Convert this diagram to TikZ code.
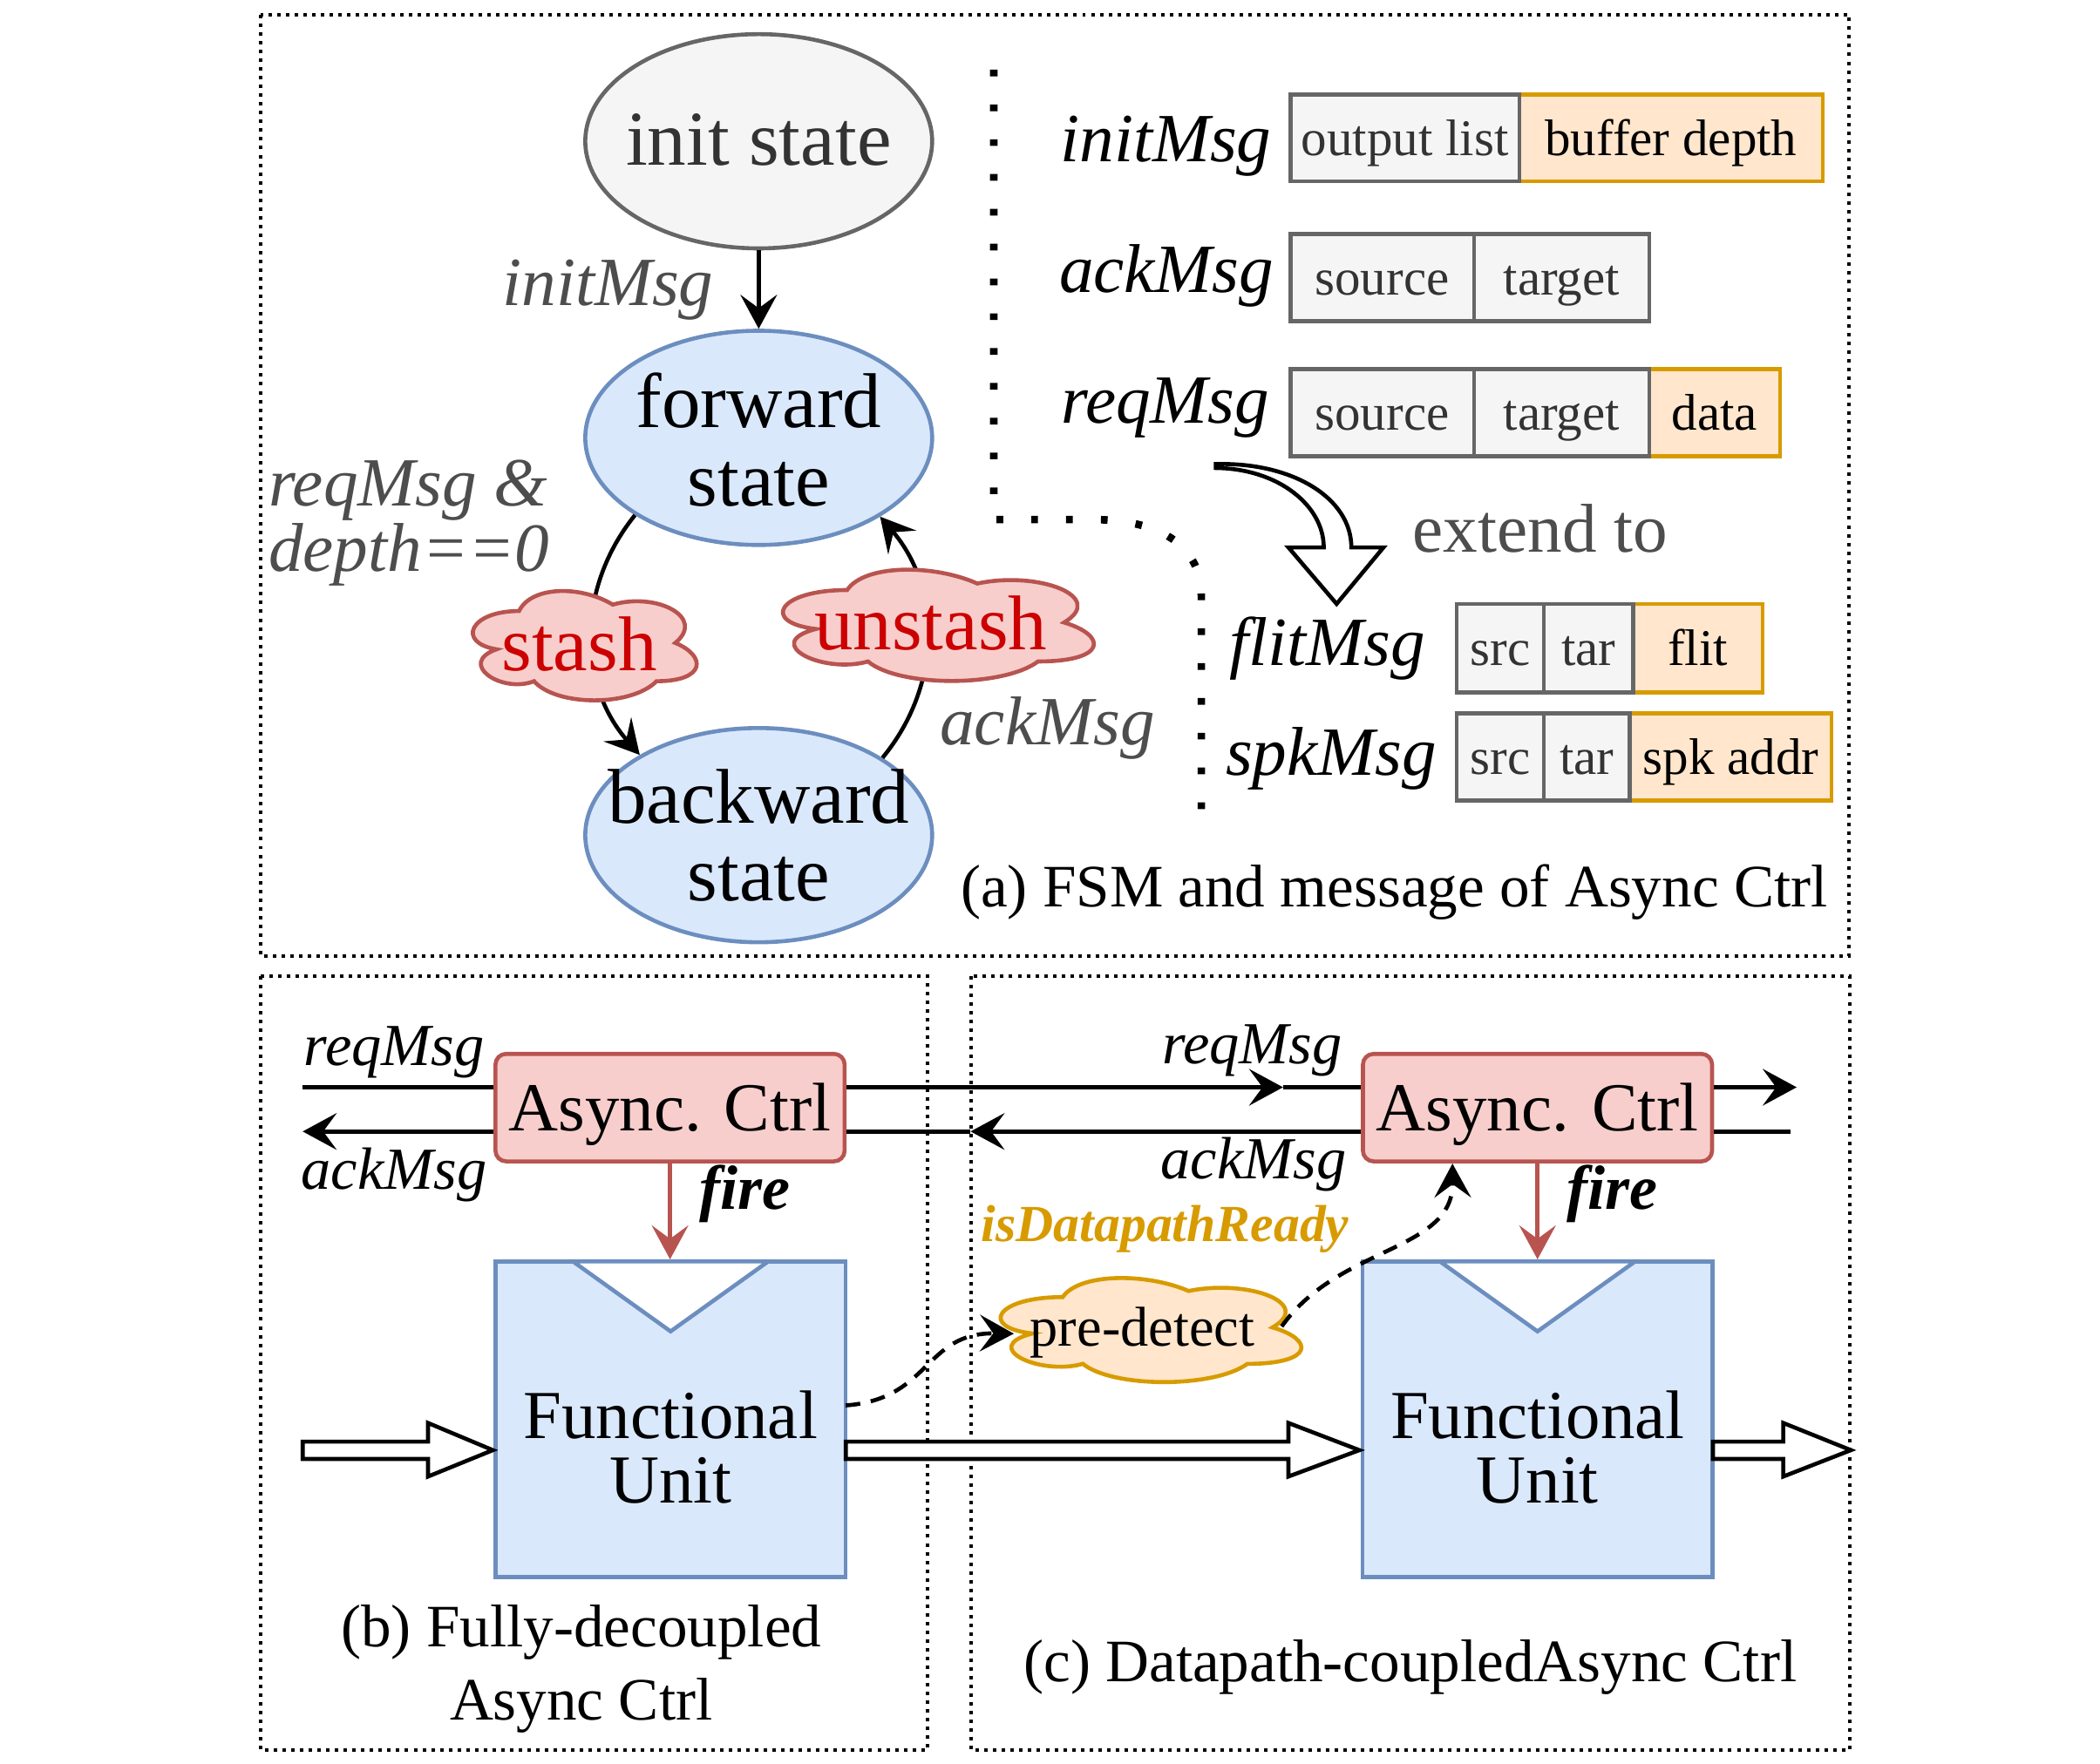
\documentclass[tikz,border=0pt]{standalone}
\usepackage{fontspec}
\setmainfont{Liberation Serif}
\usetikzlibrary{arrows.meta,shapes.geometric,calc}
\definecolor{gfill}{HTML}{F5F5F5}
\definecolor{gdraw}{HTML}{666666}
\definecolor{gtext}{HTML}{333333}
\definecolor{bfill}{HTML}{DAE8FC}
\definecolor{bdraw}{HTML}{6C8EBF}
\definecolor{rfill}{HTML}{F8CECC}
\definecolor{rdraw}{HTML}{B85450}
\definecolor{ofill}{HTML}{FFE6CC}
\definecolor{odraw}{HTML}{D79B00}
\definecolor{redtxt}{HTML}{CC0000}
\definecolor{lbl}{HTML}{4D4D4D}
\newcommand\fsz[1]{\fontsize{#1}{#1}\selectfont}
\begin{document}
\begin{tikzpicture}[x=0.15mm,y=-0.15mm,line width=0.45mm,
  frame/.style={line width=0.39mm,dash pattern=on 0.39mm off 0.59mm},
  divider/.style={line width=0.85mm,dash pattern=on 0.75mm off 3.15mm},
  arr/.style={-{Stealth[length=3.8mm,width=4.1mm,inset=1.5mm]}},
  dsh/.style={dash pattern=on 1.65mm off 1.2mm},
  txt/.style={inner sep=0,anchor=base},
  statefont/.style={font=\fsz{24.75pt}},
  ilbl/.style={txt,font=\fsz{22pt}\itshape,text=lbl},
  imsg/.style={txt,font=\fsz{22pt}\itshape},
  bmsg/.style={txt,font=\fsz{19pt}\itshape},
  capt/.style={txt,font=\fsz{19.2pt}},
  st/.style={ellipse,draw=bdraw,fill=bfill,minimum width=259*0.15mm,minimum height=160*0.15mm,inner sep=0},
  cellg/.style={draw=gdraw,fill=gfill,text=gtext,inner sep=0,font=\fsz{16.4pt},text height=14.6pt,text depth=3.54pt},
  cello/.style={draw=odraw,fill=ofill,text=black,inner sep=0,font=\fsz{16.4pt},text height=14.6pt,text depth=3.54pt},
  cloudR/.style={draw=rdraw,fill=rfill},
  cloudO/.style={draw=odraw,fill=ofill},
  cloudtxt/.style={txt,text=redtxt,font=\fsz{24.75pt}},
  async/.style={draw=rdraw,fill=rfill,rounded corners=1.2mm,inner sep=0,minimum width=260.7*0.15mm,minimum height=80.3*0.15mm,font=\fsz{21.9pt},text height=19.5pt,text depth=4.73pt},
  fu/.style={draw=bdraw,fill=bfill,inner sep=0,minimum width=261.5*0.15mm,minimum height=235.6*0.15mm},
  fufont/.style={txt,font=\fsz{21.9pt}},
  hollow/.style={draw=black,fill=white,line join=miter},
  fire/.style={txt,font=\fsz{20pt}\bfseries\itshape}]
\useasboundingbox (0,0) rectangle (1568,1317);

% frames
\draw[frame] (194.7,11) rectangle (1380.8,714);
\draw[frame] (194.3,729) rectangle (692.6,1307);
\draw[frame] (725,729) rectangle (1381,1307);

% ---------- (a) FSM ----------
\node[st,draw=gdraw,fill=gfill] (init) at (566.5,105.5) {};
\node[txt,statefont,text=gtext] (initT) at (566.5,123.5) {init state};
\node[st] (fwd) at (566.5,327) {};
\node[txt,statefont] (fwdA) at (566.5,319) {forward};
\node[txt,statefont] (fwdB) at (566.5,377.6) {state};
\node[st] (bwd) at (566.5,623.7) {};
\node[txt,statefont] (bwdA) at (566.5,615) {backward};
\node[txt,statefont] (bwdB) at (566.5,673) {state};

\draw[arr] (init) -- (fwd);
\node[ilbl] (lInit) at (454,228) {initMsg};

\draw[arr] (fwd.212.2) to[bend right=40] (bwd.146.9);
\draw[arr] (bwd.32) to[bend right=40] (fwd.327.6);

% stash cloud
\begin{scope}[shift={(340.9,432.5)},x=186.6*0.15mm,y=-95.3*0.15mm]
\draw[cloudR] (0.25,0.25) .. controls (0.05,0.25) and (0,0.5) .. (0.16,0.55) .. controls (0,0.66) and (0.18,0.9) .. (0.31,0.8) .. controls (0.4,1) and (0.7,1) .. (0.8,0.8) .. controls (1,0.8) and (1,0.6) .. (0.875,0.5) .. controls (1,0.3) and (0.8,0.1) .. (0.625,0.2) .. controls (0.5,0.05) and (0.3,0.05) .. (0.25,0.25) -- cycle;
\end{scope}
\node[cloudtxt] (stash) at (432.6,501) {stash};
% unstash cloud
\begin{scope}[shift={(567.7,416.4)},x=259.2*0.15mm,y=-97*0.15mm]
\draw[cloudR] (0.25,0.25) .. controls (0.05,0.25) and (0,0.5) .. (0.16,0.55) .. controls (0,0.66) and (0.18,0.9) .. (0.31,0.8) .. controls (0.4,1) and (0.7,1) .. (0.8,0.8) .. controls (1,0.8) and (1,0.6) .. (0.875,0.5) .. controls (1,0.3) and (0.8,0.1) .. (0.625,0.2) .. controls (0.5,0.05) and (0.3,0.05) .. (0.25,0.25) -- cycle;
\end{scope}
\node[cloudtxt] (unstash) at (695,485) {unstash};

\node[ilbl,anchor=base west] (lReq1) at (199,377.6) {reqMsg \&};
\node[ilbl,anchor=base west] (lReq2) at (199,426.4) {depth==0};
\node[ilbl] (lAck) at (782,556) {ackMsg};

% divider
\draw[divider] (742,52) -- (742,388) -- (815,388) .. controls (870,388) and (897,410) .. (897,445) -- (897,620);

% messages
\node[imsg] (mInit) at (870.5,121) {initMsg};
\node[imsg] (mAck) at (871,218.6) {ackMsg};
\node[imsg] (mReq) at (870,316) {reqMsg};
\node[imsg] (mFlit) at (991,497) {flitMsg};
\node[imsg] (mSpk) at (994,579) {spkMsg};

\node[cello,minimum width=226.5*0.15mm,minimum height=65*0.15mm] (c1b) at (1247.75,103) {buffer depth};
\node[cellg,minimum width=171*0.15mm,minimum height=65*0.15mm] (c1a) at (1049,103) {output list};

\node[cellg,minimum width=137.1*0.15mm,minimum height=65*0.15mm] (c2a) at (1032,207.35) {source};
\node[cellg,minimum width=130.7*0.15mm,minimum height=65*0.15mm] (c2b) at (1166,207.35) {target};

\node[cello,minimum width=97.7*0.15mm,minimum height=65*0.15mm] (c3c) at (1280.15,308.25) {data};
\node[cellg,minimum width=137.1*0.15mm,minimum height=65*0.15mm] (c3a) at (1032,308.25) {source};
\node[cellg,minimum width=130.7*0.15mm,minimum height=65*0.15mm] (c3b) at (1166,308.25) {target};

\node[cello,minimum width=96.5*0.15mm,minimum height=66*0.15mm] (c4c) at (1267.75,484) {flit};
\node[cellg,minimum width=65.1*0.15mm,minimum height=66*0.15mm] (c4a) at (1120.15,484) {src};
\node[cellg,minimum width=66.8*0.15mm,minimum height=66*0.15mm] (c4b) at (1186.1,484) {tar};

\node[cello,minimum width=150.6*0.15mm,minimum height=65*0.15mm] (c5c) at (1292.3,565.15) {spk addr};
\node[cellg,minimum width=65.1*0.15mm,minimum height=65*0.15mm] (c5a) at (1120.15,565.15) {src};
\node[cellg,minimum width=64.3*0.15mm,minimum height=65*0.15mm] (c5b) at (1184.85,565.15) {tar};

% extend-to arrow
\draw[hollow] (907.8,346.6) .. controls (965,345) and (1009,372) .. (1009,408.8) -- (1033,408.8) -- (998,451) -- (962,408.8) -- (988.4,408.8) .. controls (988.4,378) and (955,350) .. (907.8,349.5) -- cycle;
\node[txt,font=\fsz{22pt},text=lbl] (lExt) at (1150,412.6) {extend to};

\node[capt] (capA) at (1041,677) {(a) FSM and message of Async Ctrl};

% ---------- (b) ----------
\node[async] (acb) at (500.3,827.2) {Async. Ctrl};
\node[fu] (fub) at (500.7,1059.8) {};
\draw[draw=bdraw,fill=white] (427.7,942) -- (500.7,994.3) -- (573.7,942) -- cycle;
\node[fufont] (fubA) at (500.7,1074.6) {Functional};
\node[fufont] (fubB) at (500.7,1122.5) {Unit};

\coordinate (reqL) at (226,812);
\coordinate (ackL) at (226,845);
\coordinate (reqM) at (958,812);
\coordinate (ackM) at (724.7,845);
\coordinate (reqR) at (1341.5,812);
\coordinate (ackR) at (1337,845);

\draw (reqL) -- (reqL -| acb.west);
\draw[arr] (ackL -| acb.west) -- (ackL);
\node[bmsg] (bReq) at (294.3,796) {reqMsg};
\node[bmsg] (bAck) at (294.3,888) {ackMsg};

\draw[arr,draw=rdraw] (acb.south) -- (acb.south |- fub.north);
\node[fire] (fireB) at (556,903) {fire};

\draw[hollow] (226,1076.6) -- (319.6,1076.6) -- (319.6,1062.7) -- (368,1083) -- (319.6,1102.7) -- (319.6,1089.6) -- (226,1089.6) -- cycle;

\node[capt] (capB1) at (434,1229.6) {(b) Fully-decoupled};
\node[capt] (capB2) at (434,1284.6) {Async Ctrl};

% ---------- (c) ----------
\node[async] (acc) at (1148,827.2) {Async. Ctrl};
\node[fu] (fuc) at (1148,1059.8) {};
\draw[draw=bdraw,fill=white] (1075,942) -- (1148,994.3) -- (1221,942) -- cycle;
\node[fufont] (fucA) at (1148,1074.6) {Functional};
\node[fufont] (fucB) at (1148,1122.5) {Unit};

\draw[arr] (reqL -| acb.east) -- (reqM);
\draw (reqM) -- (reqL -| acc.west);
\draw[arr] (ackL -| acc.west) -- (ackM);
\draw (ackM) -- (ackL -| acb.east);
\draw[arr] (reqL -| acc.east) -- (reqR);
\draw (ackL -| acc.east) -- (ackR);
\node[bmsg] (cReq) at (935,794.4) {reqMsg};
\node[bmsg] (cAck) at (936,880.4) {ackMsg};

\draw[arr,draw=rdraw] (acc.south) -- (acc.south |- fuc.north);
\node[fire] (fireC) at (1204,903) {fire};

\draw[hollow] (631.5,1076.6) -- (962,1076.6) -- (962,1062.7) -- (1015,1083) -- (962,1102.7) -- (962,1089.6) -- (631.5,1089.6) -- cycle;
\draw[hollow] (1279,1076.6) -- (1331.5,1076.6) -- (1331.5,1062.7) -- (1382,1083) -- (1331.5,1102.7) -- (1331.5,1089.6) -- (1279,1089.6) -- cycle;

% pre-detect cloud
\begin{scope}[shift={(730.8,946)},x=250.7*0.15mm,y=-90.7*0.15mm]
\draw[cloudO] (0.25,0.25) .. controls (0.05,0.25) and (0,0.5) .. (0.16,0.55) .. controls (0,0.66) and (0.18,0.9) .. (0.31,0.8) .. controls (0.4,1) and (0.7,1) .. (0.8,0.8) .. controls (1,0.8) and (1,0.6) .. (0.875,0.5) .. controls (1,0.3) and (0.8,0.1) .. (0.625,0.2) .. controls (0.5,0.05) and (0.3,0.05) .. (0.25,0.25) -- cycle;
\end{scope}
\node[txt,font=\fsz{17.9pt}] (pre) at (853,1005.6) {pre-detect};

\coordinate (fuOut) at (631.4,1049.6);
\coordinate (preIn) at (757,996);
\coordinate (preOut) at (957,990.6);
\coordinate (accIn) at (1084.5,869);
\draw[arr,dsh] (fuOut) .. controls (695,1045) and (690,995) .. (preIn);
\draw[arr,dsh] (preOut) .. controls (1000,930) and (1085,935) .. (accIn);

\node[txt,font=\fsz{16.6pt}\bfseries\itshape,text=odraw] (isDP) at (870,927) {isDatapathReady};

\node[capt] (capC) at (1053,1256) {(c) Datapath-coupledAsync Ctrl};
\end{tikzpicture}
\end{document}
